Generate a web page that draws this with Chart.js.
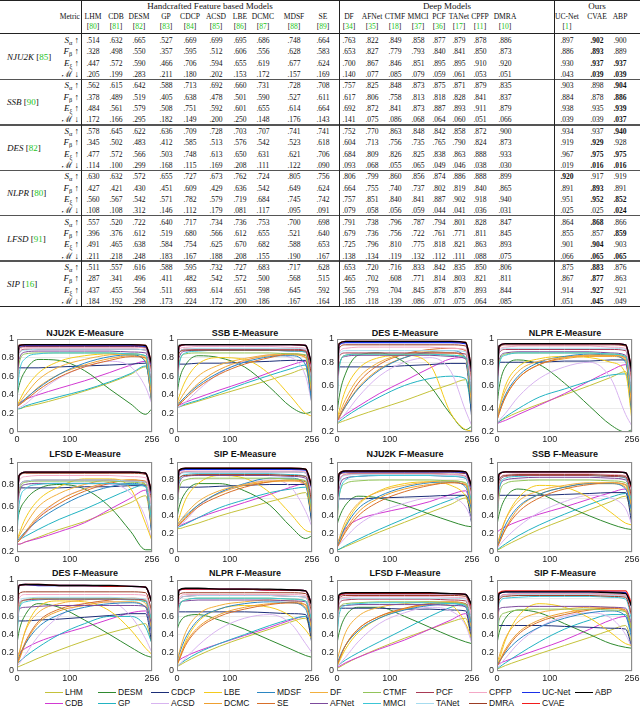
<!DOCTYPE html>
<html>
<head>
<meta charset="utf-8">
<script src="https://cdn.jsdelivr.net/npm/chart.js@4.4.1/dist/chart.umd.min.js"></script>
<style>
  body { margin:0; width:640px; height:706px; position:relative; overflow:hidden; background:#fff;
         font-family:"Liberation Serif","Times New Roman",serif; color:#111; }
  .c { position:absolute; line-height:12px; height:12px; white-space:nowrap; font-size:8.6px; }
  .c.wide { font-size:9px; }
  .c sub { font-size:6.3px; vertical-align:-2px; line-height:0; }
  .g { color:#22c322; }
  .b { font-weight:bold; }
  .ln { position:absolute; background:#222; }
  .ttl { position:absolute; font:bold 9px "Liberation Sans",Arial,sans-serif; white-space:nowrap;
         transform:translateX(-50%); line-height:10px; color:#111; }
  canvas { position:absolute; }
  .lg { position:absolute; font:8.5px "Liberation Sans",Arial,sans-serif; line-height:10px; white-space:nowrap; color:#111; }
  .lgl { position:absolute; height:1.3px; }
</style>
</head>
<body>
<div id="tbl"></div>
<div id="plots"></div>
<div id="legend"></div>
<script>
// ---- table data ----
const models = ['LHM','CDB','DESM','GP','CDCP','ACSD','LBE','DCMC','MDSF','SE','DF','AFNet','CTMF','MMCI','PCF','TANet','CPFP','DMRA','UC-Net','CVAE','ABP'];
const modelRefs = ['80','81','82','83','84','85','86','87','88','89','34','35','18','37','36','17','11','10','1','',''];
const datasetNames = ['NJU2K','SSB','DES','NLPR','LFSD','SIP'];
const datasetRefs = ['85','90','82','80','91','16'];

const nju2kScores = [
  [.514,.632,.665,.527,.669,.699,.695,.686,.748,.664,.763,.822,.849,.858,.877,.879,.878,.886,.897,.902,.900],
  [.328,.498,.550,.357,.595,.512,.606,.556,.628,.583,.653,.827,.779,.793,.840,.841,.850,.873,.886,.893,.889],
  [.447,.572,.590,.466,.706,.594,.655,.619,.677,.624,.700,.867,.846,.851,.895,.895,.910,.920,.930,.937,.937],
  [.205,.199,.283,.211,.180,.202,.153,.172,.157,.169,.140,.077,.085,.079,.059,.061,.053,.051,.043,.039,.039]];
const ssbScores = [
  [.562,.615,.642,.588,.713,.692,.660,.731,.728,.708,.757,.825,.848,.873,.875,.871,.879,.835,.903,.898,.904],
  [.378,.489,.519,.405,.638,.478,.501,.590,.527,.611,.617,.806,.758,.813,.818,.828,.841,.837,.884,.878,.886],
  [.484,.561,.579,.508,.751,.592,.601,.655,.614,.664,.692,.872,.841,.873,.887,.893,.911,.879,.938,.935,.939],
  [.172,.166,.295,.182,.149,.200,.250,.148,.176,.143,.141,.075,.086,.068,.064,.060,.051,.066,.039,.039,.037]];
const desScores = [
  [.578,.645,.622,.636,.709,.728,.703,.707,.741,.741,.752,.770,.863,.848,.842,.858,.872,.900,.934,.937,.940],
  [.345,.502,.483,.412,.585,.513,.576,.542,.523,.618,.604,.713,.756,.735,.765,.790,.824,.873,.919,.929,.928],
  [.477,.572,.566,.503,.748,.613,.650,.631,.621,.706,.684,.809,.826,.825,.838,.863,.888,.933,.967,.975,.975],
  [.114,.100,.299,.168,.115,.169,.208,.111,.122,.090,.093,.068,.055,.065,.049,.046,.038,.030,.019,.016,.016]];
const nlprScores = [
  [.630,.632,.572,.655,.727,.673,.762,.724,.805,.756,.806,.799,.860,.856,.874,.886,.888,.899,.920,.917,.919],
  [.427,.421,.430,.451,.609,.429,.636,.542,.649,.624,.664,.755,.740,.737,.802,.819,.840,.865,.891,.893,.891],
  [.560,.567,.542,.571,.782,.579,.719,.684,.745,.742,.757,.851,.840,.841,.887,.902,.918,.940,.951,.952,.852],
  [.108,.108,.312,.146,.112,.179,.081,.117,.095,.091,.079,.058,.056,.059,.044,.041,.036,.031,.025,.025,.024]];
const lfsdScores = [
  [.557,.520,.722,.640,.717,.734,.736,.753,.700,.698,.791,.738,.796,.787,.794,.801,.828,.847,.864,.868,.866],
  [.396,.376,.612,.519,.680,.566,.612,.655,.521,.640,.679,.736,.756,.722,.761,.771,.811,.845,.855,.857,.859],
  [.491,.465,.638,.584,.754,.625,.670,.682,.588,.653,.725,.796,.810,.775,.818,.821,.863,.893,.901,.904,.903],
  [.211,.218,.248,.183,.167,.188,.208,.155,.190,.167,.138,.134,.119,.132,.112,.111,.088,.075,.066,.065,.065]];
const sipScores = [
  [.511,.557,.616,.588,.595,.732,.727,.683,.717,.628,.653,.720,.716,.833,.842,.835,.850,.806,.875,.883,.876],
  [.287,.341,.496,.411,.482,.542,.572,.500,.568,.515,.465,.702,.608,.771,.814,.803,.821,.811,.867,.877,.863],
  [.437,.455,.564,.511,.683,.614,.651,.598,.645,.592,.565,.793,.704,.845,.878,.870,.893,.844,.914,.927,.921],
  [.184,.192,.298,.173,.224,.172,.200,.186,.167,.164,.185,.118,.139,.086,.071,.075,.064,.085,.051,.045,.049]];
// columns printed in bold, per metric row
const nju2kBold = [[19],[19],[19,20],[19,20]];
const ssbBold = [[20],[20],[20],[20]];
const desBold = [[20],[19],[19,20],[19,20]];
const nlprBold = [[18],[19],[19,20],[20]];
const lfsdBold = [[19],[20],[19],[19,20]];
const sipBold = [[19],[19],[19],[19]];

// ---- curve data: thresholds and one row per model ----
const thresholds = [0,4,16,40,80,128,176,216,244,256];

const njuE = [
  [.25,.25,.27,.30,.36,.44,.53,.62,.70,.45],[.30,.31,.35,.40,.47,.55,.64,.72,.76,.40],
  [.38,.50,.66,.78,.77,.66,.46,.30,.19,.25],[.25,.25,.28,.32,.38,.45,.54,.63,.71,.40],
  [.69,.69,.69,.69,.70,.71,.72,.73,.74,.30],[.25,.26,.30,.42,.58,.70,.76,.70,.48,.30],
  [.28,.33,.46,.63,.76,.82,.84,.83,.76,.30],[.27,.29,.35,.48,.62,.72,.79,.82,.79,.35],
  [.28,.30,.36,.47,.62,.74,.81,.83,.75,.30],[.27,.29,.34,.45,.59,.70,.77,.81,.80,.35],
  [.28,.31,.40,.56,.70,.78,.83,.84,.80,.35],[.40,.78,.86,.87,.87,.87,.87,.86,.85,.50],
  [.42,.74,.84,.85,.85,.85,.85,.84,.82,.45],[.36,.62,.79,.84,.85,.85,.85,.84,.82,.45],
  [.45,.85,.89,.89,.89,.89,.89,.89,.88,.55],[.45,.84,.88,.89,.89,.89,.89,.89,.88,.55],
  [.50,.88,.91,.91,.91,.91,.91,.91,.90,.60],[.55,.90,.92,.92,.92,.92,.92,.92,.91,.65],
  [.60,.92,.93,.93,.93,.93,.93,.93,.92,.70],[.62,.93,.94,.94,.94,.94,.94,.94,.93,.72],
  [.62,.93,.94,.94,.94,.94,.94,.94,.93,.72]];
const ssbE = [
  [.26,.27,.29,.33,.40,.48,.56,.63,.68,.30],[.28,.29,.32,.37,.45,.54,.64,.72,.76,.35],
  [.40,.55,.72,.82,.80,.70,.48,.27,.20,.22],[.26,.27,.30,.34,.42,.52,.61,.68,.72,.35],
  [.73,.73,.73,.74,.74,.75,.76,.77,.77,.35],[.26,.27,.32,.45,.63,.76,.83,.80,.60,.30],
  [.30,.38,.55,.73,.80,.78,.62,.38,.20,.17],[.27,.30,.38,.52,.67,.77,.82,.83,.80,.40],
  [.28,.31,.38,.50,.64,.75,.81,.82,.72,.30],[.27,.29,.36,.48,.62,.73,.80,.84,.82,.40],
  [.29,.33,.44,.60,.72,.79,.83,.84,.80,.40],[.42,.80,.87,.88,.88,.88,.88,.87,.86,.55],
  [.42,.75,.84,.85,.85,.85,.85,.84,.83,.45],[.40,.72,.85,.87,.88,.88,.88,.87,.86,.50],
  [.45,.86,.89,.89,.89,.89,.89,.89,.88,.55],[.45,.86,.89,.90,.90,.90,.90,.90,.89,.55],
  [.50,.89,.91,.92,.92,.92,.92,.91,.90,.60],[.48,.85,.88,.88,.88,.88,.88,.88,.87,.60],
  [.60,.92,.94,.94,.94,.94,.94,.94,.93,.70],[.60,.92,.94,.94,.94,.94,.94,.94,.93,.70],
  [.62,.93,.94,.94,.94,.94,.94,.94,.93,.72]];
const desE = [
  [.27,.28,.30,.34,.40,.47,.55,.61,.65,.40],[.30,.31,.35,.42,.53,.64,.75,.83,.84,.45],
  [.35,.50,.70,.86,.88,.80,.60,.35,.22,.25],[.28,.29,.33,.40,.50,.60,.66,.68,.66,.35],
  [.76,.76,.76,.76,.76,.77,.78,.79,.79,.30],[.28,.30,.36,.50,.68,.80,.84,.72,.38,.25],
  [.30,.38,.56,.74,.84,.86,.78,.36,.22,.21],[.29,.32,.42,.58,.74,.84,.88,.88,.84,.40],
  [.30,.33,.42,.57,.73,.84,.89,.90,.84,.35],[.29,.33,.44,.62,.78,.87,.91,.92,.90,.45],
  [.30,.35,.48,.66,.80,.87,.89,.88,.83,.40],[.40,.78,.85,.86,.86,.86,.86,.85,.83,.50],
  [.42,.76,.86,.87,.87,.87,.87,.86,.84,.50],[.42,.75,.86,.87,.87,.87,.87,.86,.84,.50],
  [.45,.85,.88,.88,.88,.88,.88,.88,.87,.55],[.45,.86,.90,.90,.90,.90,.90,.90,.89,.55],
  [.50,.88,.92,.93,.93,.93,.93,.92,.91,.60],[.55,.92,.95,.95,.95,.95,.95,.95,.94,.65],
  [.60,.95,.97,.97,.97,.97,.97,.97,.96,.70],[.62,.96,.98,.98,.98,.98,.98,.98,.97,.72],
  [.62,.96,.98,.98,.98,.98,.98,.98,.97,.72]];
const nlprE = [
  [.28,.29,.32,.37,.44,.52,.60,.67,.72,.40],[.27,.28,.30,.35,.43,.53,.64,.73,.78,.40],
  [.42,.58,.76,.82,.78,.62,.42,.26,.20,.22],[.28,.29,.33,.40,.50,.57,.64,.69,.70,.35],
  [.80,.80,.80,.80,.80,.81,.81,.82,.82,.35],[.28,.30,.36,.50,.66,.76,.80,.66,.35,.25],
  [.30,.40,.60,.76,.83,.85,.84,.80,.70,.30],[.30,.36,.50,.66,.78,.83,.85,.85,.82,.40],
  [.32,.38,.52,.68,.80,.85,.87,.86,.80,.35],[.30,.36,.50,.66,.78,.84,.86,.86,.84,.40],
  [.32,.40,.56,.72,.81,.84,.86,.86,.83,.40],[.45,.82,.88,.89,.89,.89,.89,.88,.86,.50],
  [.45,.80,.87,.88,.88,.88,.88,.87,.85,.50],[.42,.78,.86,.88,.88,.88,.88,.87,.85,.50],
  [.50,.88,.91,.91,.91,.91,.91,.91,.90,.55],[.50,.89,.92,.92,.92,.92,.92,.92,.91,.55],
  [.52,.90,.93,.94,.94,.94,.94,.93,.92,.60],[.55,.92,.95,.95,.95,.95,.95,.95,.94,.65],
  [.60,.94,.96,.96,.96,.96,.96,.96,.95,.70],[.62,.94,.96,.96,.96,.96,.96,.96,.95,.72],
  [.62,.94,.96,.96,.96,.96,.96,.96,.95,.72]];
const lfsdE = [
  [.27,.27,.29,.33,.40,.47,.56,.64,.70,.40],[.27,.27,.29,.32,.38,.46,.58,.68,.75,.40],
  [.45,.55,.66,.76,.80,.76,.60,.38,.22,.22],[.30,.31,.34,.40,.49,.58,.68,.76,.80,.40],
  [.77,.77,.77,.77,.77,.78,.78,.79,.79,.35],[.28,.30,.36,.50,.66,.76,.80,.72,.50,.30],
  [.30,.36,.50,.66,.78,.85,.85,.76,.45,.30],[.28,.30,.38,.52,.66,.76,.82,.84,.80,.40],
  [.30,.32,.38,.48,.60,.71,.78,.81,.78,.35],[.28,.30,.37,.50,.63,.74,.81,.84,.83,.40],
  [.30,.34,.44,.60,.72,.80,.84,.84,.80,.40],[.40,.72,.80,.81,.81,.81,.81,.80,.79,.50],
  [.42,.74,.82,.83,.83,.83,.83,.82,.80,.50],[.35,.62,.76,.80,.81,.81,.81,.80,.78,.45],
  [.45,.78,.83,.84,.84,.84,.84,.83,.82,.55],[.45,.78,.83,.84,.84,.84,.84,.83,.82,.55],
  [.50,.83,.87,.88,.88,.88,.88,.87,.86,.60],[.55,.87,.90,.90,.90,.90,.90,.90,.89,.65],
  [.58,.88,.91,.91,.91,.91,.91,.91,.90,.70],[.60,.88,.91,.91,.91,.91,.91,.91,.90,.72],
  [.60,.88,.91,.91,.91,.91,.91,.91,.90,.72]];
const sipE = [
  [.26,.26,.28,.32,.40,.48,.56,.62,.66,.35],[.28,.29,.32,.38,.46,.55,.64,.72,.76,.40],
  [.38,.50,.66,.76,.76,.68,.52,.28,.15,.18],[.27,.28,.31,.38,.49,.58,.66,.70,.72,.35],
  [.72,.72,.72,.72,.73,.74,.75,.75,.75,.30],[.27,.29,.35,.50,.66,.75,.80,.72,.45,.28],
  [.30,.38,.58,.76,.85,.82,.66,.42,.24,.22],[.28,.31,.38,.52,.65,.74,.78,.79,.76,.40],
  [.30,.33,.40,.52,.66,.76,.82,.82,.74,.35],[.28,.30,.37,.50,.62,.72,.78,.80,.78,.40],
  [.30,.33,.42,.56,.68,.75,.79,.79,.75,.40],[.40,.76,.84,.85,.85,.85,.85,.84,.82,.50],
  [.40,.70,.80,.82,.82,.82,.82,.81,.79,.45],[.42,.78,.86,.87,.87,.87,.87,.86,.84,.50],
  [.45,.85,.89,.89,.89,.89,.89,.89,.88,.55],[.45,.84,.88,.89,.89,.89,.89,.89,.88,.55],
  [.50,.87,.90,.90,.90,.90,.90,.90,.89,.60],[.48,.82,.85,.86,.86,.86,.86,.85,.84,.55],
  [.58,.90,.92,.92,.92,.92,.92,.92,.91,.70],[.60,.91,.93,.93,.93,.93,.93,.93,.92,.72],
  [.60,.91,.93,.93,.93,.93,.93,.93,.92,.72]];
const njuF = [
  [.02,.03,.06,.12,.22,.33,.44,.53,.60,.40],[.10,.14,.26,.36,.43,.49,.56,.64,.68,.45],
  [.30,.38,.52,.62,.60,.52,.42,.34,.29,.28],[.02,.03,.07,.14,.25,.37,.49,.58,.63,.45],
  [.59,.59,.59,.59,.60,.61,.62,.63,.63,.30],[.05,.08,.16,.30,.44,.54,.60,.60,.50,.35],
  [.06,.12,.30,.52,.68,.76,.78,.74,.62,.45],[.05,.10,.24,.44,.60,.70,.75,.77,.74,.50],
  [.06,.12,.28,.48,.62,.72,.77,.78,.72,.45],[.05,.09,.22,.40,.56,.67,.74,.77,.75,.50],
  [.08,.15,.34,.54,.67,.74,.78,.79,.76,.50],[.30,.70,.82,.84,.85,.85,.85,.84,.82,.60],
  [.30,.62,.76,.79,.80,.80,.80,.79,.77,.55],[.40,.62,.80,.84,.85,.85,.85,.84,.82,.55],
  [.35,.78,.86,.87,.87,.87,.87,.86,.84,.60],[.35,.76,.85,.86,.86,.86,.86,.85,.83,.60],
  [.40,.80,.86,.87,.87,.87,.87,.86,.85,.60],[.50,.85,.88,.88,.88,.88,.88,.88,.87,.65],
  [.55,.86,.89,.89,.89,.89,.89,.89,.88,.70],[.55,.87,.90,.90,.90,.90,.90,.90,.89,.72],
  [.55,.87,.90,.90,.90,.90,.90,.90,.89,.72]];
const ssbF = [
  [.02,.03,.07,.14,.25,.36,.47,.56,.62,.40],[.22,.24,.28,.34,.42,.50,.59,.66,.70,.45],
  [.30,.42,.60,.70,.65,.52,.40,.31,.26,.25],[.02,.04,.09,.18,.30,.42,.53,.61,.65,.45],
  [.63,.63,.63,.63,.63,.64,.65,.66,.66,.30],[.04,.07,.15,.28,.44,.56,.63,.60,.48,.30],
  [.06,.14,.36,.60,.74,.72,.60,.44,.32,.30],[.05,.10,.26,.48,.64,.72,.76,.76,.72,.50],
  [.06,.12,.30,.50,.64,.72,.76,.76,.70,.45],[.05,.10,.25,.44,.60,.70,.75,.77,.75,.50],
  [.08,.16,.36,.56,.68,.74,.77,.77,.74,.50],[.30,.70,.80,.82,.83,.83,.83,.82,.80,.60],
  [.30,.62,.76,.79,.80,.80,.80,.79,.77,.55],[.35,.70,.82,.84,.85,.85,.85,.84,.82,.55],
  [.35,.76,.84,.85,.85,.85,.85,.84,.83,.60],[.35,.78,.85,.86,.86,.86,.86,.85,.84,.60],
  [.40,.80,.86,.87,.87,.87,.87,.86,.85,.60],[.40,.80,.85,.86,.86,.86,.86,.85,.84,.60],
  [.55,.86,.89,.89,.89,.89,.89,.89,.88,.70],[.55,.86,.89,.89,.89,.89,.89,.89,.88,.70],
  [.55,.87,.89,.89,.89,.89,.89,.89,.88,.72]];
const desF = [
  [.04,.05,.08,.14,.23,.33,.42,.48,.52,.30],[.18,.20,.25,.32,.40,.48,.57,.64,.66,.40],
  [.30,.44,.62,.74,.70,.56,.40,.26,.17,.15],[.08,.10,.16,.26,.40,.52,.60,.60,.48,.30],
  [.55,.55,.55,.56,.57,.59,.61,.63,.63,.30],[.05,.08,.18,.38,.60,.74,.76,.60,.35,.20],
  [.08,.18,.45,.70,.77,.76,.66,.45,.25,.18],[.06,.12,.30,.52,.66,.72,.76,.76,.70,.45],
  [.10,.16,.30,.48,.62,.70,.74,.75,.70,.40],[.08,.14,.32,.54,.68,.74,.78,.80,.77,.50],
  [.10,.20,.44,.64,.74,.78,.80,.79,.74,.45],[.45,.68,.70,.71,.72,.72,.72,.72,.71,.50],
  [.40,.70,.78,.80,.80,.80,.80,.79,.77,.55],[.35,.68,.76,.78,.79,.79,.79,.78,.76,.55],
  [.45,.74,.78,.79,.79,.79,.79,.79,.78,.60],[.45,.76,.80,.81,.81,.81,.81,.80,.79,.60],
  [.50,.80,.84,.84,.84,.84,.84,.84,.83,.60],[.55,.85,.87,.87,.87,.87,.87,.87,.86,.65],
  [.70,.94,.95,.94,.94,.94,.93,.93,.92,.75],[.70,.94,.95,.95,.94,.94,.93,.93,.92,.75],
  [.70,.94,.95,.95,.94,.94,.94,.93,.92,.75]];
const nlprF = [
  [.05,.06,.10,.17,.27,.37,.46,.54,.58,.35],[.10,.12,.16,.22,.30,.39,.48,.56,.60,.40],
  [.45,.52,.60,.62,.56,.46,.34,.24,.17,.15],[.05,.07,.12,.20,.30,.40,.50,.57,.60,.40],
  [.65,.65,.65,.65,.65,.65,.64,.63,.62,.30],[.05,.07,.14,.28,.46,.58,.62,.52,.30,.20],
  [.05,.12,.32,.54,.68,.72,.70,.60,.45,.35],[.08,.14,.30,.48,.62,.70,.74,.75,.70,.45],
  [.10,.18,.36,.56,.68,.74,.76,.75,.68,.40],[.07,.12,.28,.46,.60,.68,.73,.75,.73,.50],
  [.10,.20,.42,.62,.72,.76,.78,.77,.72,.45],[.50,.74,.77,.78,.78,.78,.78,.77,.76,.50],
  [.40,.70,.78,.80,.80,.80,.80,.79,.77,.55],[.40,.70,.78,.80,.80,.80,.80,.79,.77,.55],
  [.45,.78,.82,.83,.83,.83,.83,.82,.81,.60],[.45,.78,.82,.83,.83,.83,.83,.82,.81,.60],
  [.50,.80,.84,.84,.84,.84,.84,.84,.83,.60],[.55,.84,.86,.86,.86,.86,.86,.86,.85,.65],
  [.65,.89,.90,.90,.90,.90,.89,.89,.88,.72],[.65,.89,.90,.90,.90,.90,.89,.89,.88,.72],
  [.65,.89,.91,.91,.90,.90,.90,.89,.88,.72]];
const lfsdF = [
  [.03,.04,.08,.15,.25,.36,.46,.54,.58,.35],[.04,.05,.09,.15,.24,.34,.46,.56,.63,.40],
  [.30,.42,.60,.70,.70,.60,.48,.38,.32,.30],[.05,.07,.12,.20,.32,.46,.60,.70,.74,.45],
  [.69,.69,.69,.69,.69,.68,.68,.67,.66,.30],[.04,.07,.15,.32,.52,.64,.70,.66,.50,.30],
  [.05,.10,.24,.42,.58,.68,.74,.72,.52,.35],[.06,.12,.28,.46,.60,.68,.73,.75,.72,.45],
  [.08,.14,.28,.44,.58,.67,.72,.74,.70,.40],[.06,.12,.28,.46,.60,.69,.74,.76,.74,.50],
  [.10,.20,.42,.60,.70,.74,.76,.76,.72,.45],[.40,.70,.72,.73,.73,.73,.73,.72,.71,.50],
  [.40,.68,.74,.75,.76,.76,.76,.75,.73,.55],[.35,.62,.72,.74,.75,.75,.75,.74,.72,.50],
  [.45,.74,.78,.79,.79,.79,.79,.78,.77,.55],[.45,.76,.80,.80,.80,.80,.80,.80,.79,.55],
  [.50,.78,.81,.82,.82,.82,.82,.81,.80,.60],[.55,.80,.83,.83,.83,.83,.83,.83,.82,.65],
  [.62,.83,.85,.85,.85,.85,.85,.85,.84,.70],[.62,.83,.85,.85,.85,.85,.85,.85,.84,.70],
  [.62,.84,.86,.86,.86,.86,.86,.85,.84,.72]];
const sipF = [
  [.02,.03,.06,.11,.19,.28,.37,.45,.50,.30],[.06,.08,.11,.16,.24,.34,.46,.56,.60,.40],
  [.30,.42,.58,.67,.64,.52,.40,.30,.26,.25],[.02,.04,.09,.18,.32,.46,.56,.62,.62,.40],
  [.50,.50,.50,.50,.50,.49,.48,.47,.46,.25],[.03,.06,.14,.30,.48,.60,.64,.58,.40,.25],
  [.05,.12,.34,.60,.74,.70,.58,.42,.30,.28],[.05,.10,.24,.42,.56,.64,.68,.69,.65,.45],
  [.06,.10,.20,.34,.48,.58,.64,.66,.60,.35],[.05,.09,.22,.40,.54,.62,.67,.69,.67,.45],
  [.08,.16,.36,.54,.64,.68,.70,.70,.66,.45],[.40,.68,.70,.71,.71,.71,.71,.70,.69,.50],
  [.30,.56,.64,.67,.68,.68,.68,.67,.65,.45],[.35,.74,.80,.81,.82,.82,.82,.81,.79,.55],
  [.40,.80,.84,.85,.85,.85,.85,.84,.83,.60],[.40,.78,.83,.84,.84,.84,.84,.83,.82,.60],
  [.45,.80,.84,.85,.85,.85,.85,.84,.83,.60],[.45,.78,.82,.83,.83,.83,.83,.82,.81,.60],
  [.60,.85,.87,.87,.87,.87,.87,.87,.86,.70],[.62,.86,.88,.88,.88,.88,.88,.88,.88,.72],
  [.60,.85,.87,.87,.87,.87,.87,.86,.85,.70]];

const plotTitles = ['NJU2K E-Measure','SSB E-Measure','DES E-Measure','NLPR E-Measure',
  'LFSD E-Measure','SIP E-Measure','NJU2K F-Measure','SSB F-Measure',
  'DES F-Measure','NLPR F-Measure','LFSD F-Measure','SIP F-Measure'];
const plotData = [njuE, ssbE, desE, nlprE, lfsdE, sipE, njuF, ssbF, desF, nlprF, lfsdF, sipF];
const plotYMin = [0,0,0.2,0.2, 0.2,0,0,0, 0,0,0,0];

const modelColors = ['#c4c23a','#d23ad2','#2f8a2f','#22b3c2','#1c2e78','#d8b4f0','#f4cb1c','#efa030',
  '#2b86c2','#d8702a','#f2b03e','#7c4a9c','#92c45a','#3cc6d6','#a83a55','#a6dcef','#f4a8c6','#9c3c24',
  '#1a30e8','#f21c1c','#000000'];

// ---- table ----
const T = document.getElementById('tbl');
const colX = [93,116,139,166,190,216,240,263,294,323, 349,372,395,418,439,459,480,505, 567,597,620];
const SQ = 'scaleX(0.88)';
function put(html, x, y, align, cls) {
  const d = document.createElement('div');
  d.className = 'c ' + (cls || '');
  d.innerHTML = html;
  d.style.top = (y - 6) + 'px';
  const sq = (cls || '').includes('wide') ? '' : ' ' + SQ;
  if (align === 'r') { d.style.right = (640 - x) + 'px'; d.style.transformOrigin = 'right center'; d.style.transform = sq; }
  else if (align === 'l') { d.style.left = x + 'px'; d.style.transformOrigin = 'left center'; d.style.transform = sq; }
  else { d.style.left = x + 'px'; d.style.transform = 'translateX(-50%)' + sq; }
  T.appendChild(d);
}
function line(x, y, w, h, col) {
  const d = document.createElement('div');
  d.className = 'ln';
  Object.assign(d.style, {left:x+'px', top:y+'px', width:w+'px', height:h+'px'});
  if (col) d.style.background = col;
  T.appendChild(d);
}
put('Handcrafted Feature based Models', 210, 6, 'c', 'wide');
put('Deep Models', 447, 6, 'c', 'wide');
put('Ours', 597, 6, 'c', 'wide');
put('Metric', 80, 16, 'r');
models.forEach((m, i) => {
  put(m, colX[i], 16);
  if (modelRefs[i]) put('[<span class="g">' + modelRefs[i] + '</span>]', colX[i], 26);
});
const allScores = [nju2kScores, ssbScores, desScores, nlprScores, lfsdScores, sipScores];
const allBold = [nju2kBold, ssbBold, desBold, nlprBold, lfsdBold, sipBold];
const metricHtml = ['<i>S</i><sub>α</sub> ↑','<i>F</i><sub>β</sub> ↑','<i>E</i><sub>ξ</sub> ↑','ℳ ↓'];
const rowStep = 11.35;
allScores.forEach((tab, b) => {
  put('<i>' + datasetNames[b] + '</i> [<span class="g">' + datasetRefs[b] + '</span>]', 7, 40 + (b*4 + 1.5)*rowStep, 'l', 'wide');
  tab.forEach((row, r) => {
    const y = 40 + (b*4 + r)*rowStep;
    put(metricHtml[r], 79, y, 'r', 'wide');
    row.forEach((v, i) => {
      put(v.toFixed(3).slice(1), colX[i], y, 'c', allBold[b][r].includes(i) ? 'b' : '');
    });
  });
  if (b > 0) line(0, 40 + (b*4 - 0.5)*rowStep - 1, 640, 1.5, '#555');
});
line(0, 0, 640, 1);
line(0, 33, 640, 1);
line(0, 306, 640, 1);
[81, 339, 554].forEach(x => line(x, 0, 1, 306));

// ---- plots ----
const P = document.getElementById('plots');
const rowTop = [339, 462, 580];
const rowH = [93, 90, 91];
const titleY = [333, 454, 573];
const frame = {
  id: 'frame',
  afterDatasetsDraw(chart) {
    const a = chart.chartArea, c = chart.ctx;
    c.save();
    c.strokeStyle = '#8c8c8c';
    c.lineWidth = 1;
    c.strokeRect(a.left + 0.5, a.top + 0.5, a.right - a.left - 1, a.bottom - a.top - 1);
    c.restore();
  }
};
const fmt = v => { const r = Math.round(v*10)/10; return r === 0 ? '0' : r === 1 ? '1' : r.toFixed(1); };
plotTitles.forEach((title, i) => {
  const r = Math.floor(i/4), c = i % 4;
  const t = document.createElement('div');
  t.className = 'ttl';
  t.textContent = title;
  t.style.left = (160*c + 85) + 'px';
  t.style.top = (titleY[r] - 5) + 'px';
  P.appendChild(t);
  const cv = document.createElement('canvas');
  cv.width = 160; cv.height = rowH[r] + 6 + 14;
  cv.style.left = (160*c) + 'px';
  cv.style.top = (rowTop[r] - 6) + 'px';
  P.appendChild(cv);
  const vals = plotData[i];
  new Chart(cv.getContext('2d'), {
    type: 'line',
    data: {
      datasets: models.map((m, k) => ({
        label: m,
        data: thresholds.map((x, j) => ({x, y: vals[k][j]})),
        borderColor: modelColors[k],
        borderWidth: k >= 18 ? 1.4 : 1,
        pointRadius: 0,
        cubicInterpolationMode: 'monotone',
        order: 20 - k
      }))
    },
    options: {
      responsive: false, animation: false, events: [],
      layout: { padding: { top: 6, right: 8, left: 0, bottom: 0 } },
      plugins: { legend: { display: false }, tooltip: { enabled: false } },
      scales: {
        x: {
          type: 'linear', min: 0, max: 256,
          afterBuildTicks: s => { s.ticks = [{value:0},{value:100},{value:256}]; },
          afterFit: s => { s.height = 14; s.paddingLeft = 0; s.paddingRight = 0; },
          ticks: { font: { size: 9, family: 'Liberation Sans' }, color: '#222', padding: 2, maxRotation: 0, autoSkip: false },
          grid: { color: '#ebebeb', drawTicks: false },
          border: { display: false }
        },
        y: {
          min: plotYMin[i], max: 1,
          afterFit: s => { s.width = 17; s.paddingTop = 0; s.paddingBottom = 0; },
          ticks: { stepSize: 0.2, callback: fmt, font: { size: 9, family: 'Liberation Sans' }, color: '#222', padding: 3 },
          grid: { color: '#ebebeb', drawTicks: false },
          border: { display: false }
        }
      }
    },
    plugins: [frame]
  });
});

// ---- legend ----
const L = document.getElementById('legend');
models.forEach((m, k) => {
  const col = Math.floor(k/2), row = k % 2;
  const x0 = 45 + col*53, y = row ? 703 : 692;
  const s = document.createElement('div');
  s.className = 'lgl';
  Object.assign(s.style, {left: x0+'px', top: (y-0.5)+'px', width: '18px', background: modelColors[k]});
  L.appendChild(s);
  const t = document.createElement('div');
  t.className = 'lg';
  t.textContent = m;
  t.style.left = (x0 + 20) + 'px';
  t.style.top = (y - 5) + 'px';
  L.appendChild(t);
});
</script>
</body>
</html>
